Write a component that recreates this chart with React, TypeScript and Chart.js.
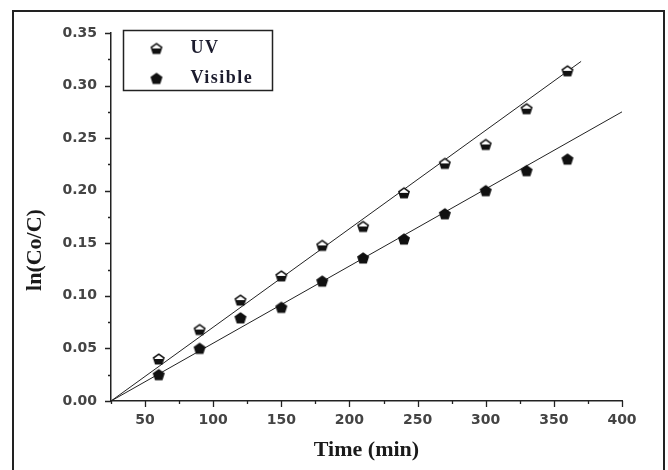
import React, { useEffect, useRef } from 'react';
import { Chart, registerables } from 'chart.js';

Chart.register(...registerables);

// ---- data ----
const timeMin = [60, 90, 120, 150, 180, 210, 240, 270, 300, 330, 360];
const uvValues = [0.040, 0.068, 0.096, 0.119, 0.148, 0.166, 0.198, 0.226, 0.244, 0.278, 0.314];
const visibleValues = [0.025, 0.050, 0.079, 0.089, 0.114, 0.136, 0.154, 0.178, 0.200, 0.219, 0.230];
const uvFitX = [25, 370];
const uvFitY = [0, 0.323];
const visFitX = [25, 400];
const visFitY = [0, 0.275];
const xMajorTicks = [50, 100, 150, 200, 250, 300, 350, 400];
const xMinorTicks = [25, 75, 125, 175, 225, 275, 325, 375];
const yMajorTicks = [0, 0.05, 0.1, 0.15, 0.2, 0.25, 0.3, 0.35];
const yMinorTicks = [0.025, 0.075, 0.125, 0.175, 0.225, 0.275, 0.325];
const seriesLabels = ['UV', 'Visible'];

function makeMarker(half: boolean): HTMLCanvasElement {
  const s = 14;
  const c = document.createElement('canvas');
  c.width = s;
  c.height = s;
  const g = c.getContext('2d')!;
  const cx = s / 2, cy = s / 2 + 0.5, r = 5.4;
  g.beginPath();
  for (let k = 0; k < 5; k++) {
    const a = (-90 + k * 72) * Math.PI / 180;
    const px = cx + r * Math.cos(a), py = cy + r * Math.sin(a);
    if (k === 0) g.moveTo(px, py); else g.lineTo(px, py);
  }
  g.closePath();
  if (half) {
    g.fillStyle = '#fff';
    g.fill();
    g.save();
    g.clip();
    g.fillStyle = '#111';
    g.fillRect(0, cy - 0.5, s, s);
    g.restore();
  } else {
    g.fillStyle = '#111';
    g.fill();
  }
  g.lineWidth = 1.5;
  g.strokeStyle = '#111';
  g.stroke();
  return c;
}

const tickPlugin = {
  id: 'customTicks',
  afterDraw(chart: any) {
    const ctx = chart.ctx;
    const xs = chart.scales.x, ys = chart.scales.y;
    const area = chart.chartArea;
    ctx.save();
    ctx.strokeStyle = '#222';
    ctx.lineWidth = 1.3;
    ctx.beginPath();
    const xt = (v: number, len: number) => {
      const p = Math.round(xs.getPixelForValue(v)) + 0.5;
      ctx.moveTo(p, area.bottom);
      ctx.lineTo(p, area.bottom + len);
    };
    const yt = (v: number, len: number) => {
      const p = Math.round(ys.getPixelForValue(v)) + 0.5;
      ctx.moveTo(area.left, p);
      ctx.lineTo(area.left - len, p);
    };
    xMajorTicks.forEach(v => xt(v, 6));
    xMinorTicks.forEach(v => xt(v, 3));
    yMajorTicks.forEach(v => yt(v, 6));
    yMinorTicks.forEach(v => yt(v, 3));
    ctx.stroke();
    ctx.restore();
  },
};

const legendPlugin = {
  id: 'boxLegend',
  afterDraw(chart: any) {
    const ctx = chart.ctx;
    const area = chart.chartArea;
    const x0 = area.left + 12.5, y0 = area.top - 2.5, w = 149, h = 60;
    ctx.save();
    ctx.strokeStyle = '#222';
    ctx.lineWidth = 1.5;
    ctx.strokeRect(x0, y0, w, h);
    const imgs = [chart.data.datasets[0].pointStyle, chart.data.datasets[1].pointStyle];
    ctx.font = 'bold 18px "Liberation Serif", serif';
    try { (ctx as any).letterSpacing = '1.5px'; } catch (e) { /* ignore */ }
    ctx.fillStyle = '#1c1c2e';
    ctx.textBaseline = 'middle';
    seriesLabels.forEach((lab, i) => {
      const cy = y0 + 18 + i * 30;
      const img = imgs[i] as HTMLCanvasElement;
      ctx.drawImage(img, x0 + 33 - img.width / 2, cy - img.height / 2);
      ctx.fillText(lab, x0 + 67, cy);
    });
    try { (ctx as any).letterSpacing = '0px'; } catch (e) { /* ignore */ }
    ctx.restore();
  },
};

const tickFont = { family: '"DejaVu Sans", sans-serif', size: 14, weight: 'bold' as const };
const titleFont = { family: '"Liberation Serif", serif', size: 22, weight: 'bold' as const };

export default function App() {
  const ref = useRef<HTMLCanvasElement>(null);
  useEffect(() => {
    if (!ref.current) return;
    const uvMarker = makeMarker(true);
    const visMarker = makeMarker(false);
    const chart = new Chart(ref.current, {
      type: 'scatter',
      data: {
        datasets: [
          {
            label: seriesLabels[0],
            data: timeMin.map((t, i) => ({ x: t, y: uvValues[i] })),
            pointStyle: uvMarker as any,
            showLine: false,
          },
          {
            label: seriesLabels[1],
            data: timeMin.map((t, i) => ({ x: t, y: visibleValues[i] })),
            pointStyle: visMarker as any,
            showLine: false,
          },
          {
            label: 'UV fit',
            data: uvFitX.map((t, i) => ({ x: t, y: uvFitY[i] })),
            showLine: true,
            pointRadius: 0,
            borderColor: '#222',
            borderWidth: 1,
          },
          {
            label: 'Visible fit',
            data: visFitX.map((t, i) => ({ x: t, y: visFitY[i] })),
            showLine: true,
            pointRadius: 0,
            borderColor: '#222',
            borderWidth: 1,
          },
        ],
      },
      options: {
        responsive: false,
        animation: false,
        layout: { padding: { left: 0, right: 46, top: 33, bottom: 0 } },
        plugins: { legend: { display: false }, tooltip: { enabled: false } },
        scales: {
          x: {
            type: 'linear',
            min: 25,
            max: 400,
            afterFit: (s: any) => { s.height = 69; },
            afterBuildTicks: (s: any) => { s.ticks = xMajorTicks.map(v => ({ value: v })); },
            grid: { display: true, drawOnChartArea: false, drawTicks: false },
            border: { display: true, color: '#222', width: 1.5 },
            ticks: {
              padding: 11,
              color: '#444',
              font: tickFont,
              maxRotation: 0,
            },
            title: {
              display: true,
              text: 'Time (min)',
              color: '#1a1a1a',
              font: titleFont,
              padding: { top: 0, bottom: 6 },
            },
          },
          y: {
            type: 'linear',
            min: 0,
            max: 0.35,
            afterFit: (s: any) => { s.width = 111; },
            afterBuildTicks: (s: any) => { s.ticks = yMajorTicks.map(v => ({ value: v })); },
            grid: { display: true, drawOnChartArea: false, drawTicks: false },
            border: { display: true, color: '#222', width: 1.5 },
            ticks: {
              padding: 14,
              color: '#444',
              font: tickFont,
              callback: (v: any) => Number(v).toFixed(2),
            },
            title: {
              display: true,
              text: 'ln(Co/C)            ',
              color: '#1a1a1a',
              font: titleFont,
              padding: { top: 22, bottom: 0 },
            },
          },
        },
      },
      plugins: [tickPlugin, legendPlugin],
    });
    return () => chart.destroy();
  }, []);

  return (
    <div style={{ position: 'fixed', left: 0, top: 0, width: 668, height: 470, background: '#fff', overflow: 'hidden' }}>
      <div
        style={{
          position: 'absolute',
          left: 12,
          top: 10,
          width: 653,
          height: 480,
          border: '2px solid #222',
          boxSizing: 'border-box',
        }}
      />
      <canvas ref={ref} width={668} height={470} style={{ position: 'absolute', left: 0, top: 0 }} />
    </div>
  );
}
